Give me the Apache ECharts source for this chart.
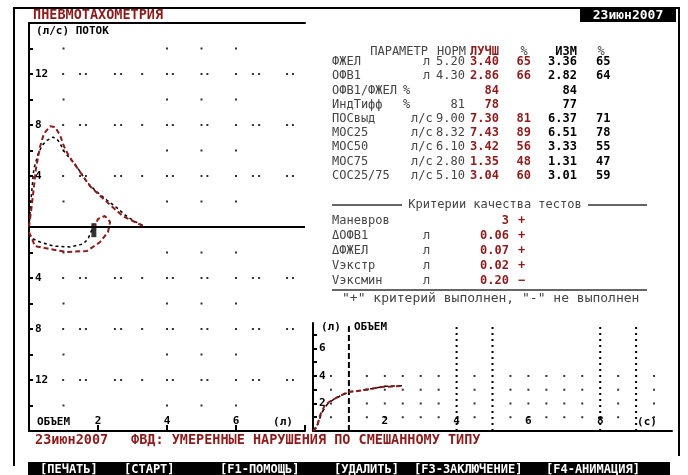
<!DOCTYPE html>
<html><head><meta charset="utf-8">
<script src="https://cdn.jsdelivr.net/npm/echarts@6/dist/echarts.min.js"></script>
<style>html,body{margin:0;padding:0;background:#fff}#c{width:688px;height:475px}</style>
</head><body><div id="c"></div>
<script>
// ---- flow-volume loop (main chart) ----
const redExpVol  = [0,0.06,0.12,0.2,0.32,0.43,0.61,0.75,0.9,1.01,1.13,1.25,1.42,1.59,1.77,2.0,2.26,2.49,2.72,3.01,3.3,3.39];
const redExpFlow = [0,1.25,2.6,4.55,6.3,7.3,7.9,7.85,7.2,6.35,5.7,5.2,4.55,3.9,3.2,2.6,1.96,1.4,0.86,0.47,0.08,0];
const redInsVol  = [0,0.09,0.17,0.61,1.1,1.68,2.06,2.29,2.35,2.2,2.0,1.91];
const redInsFlow = [-0.4,-0.94,-1.49,-1.73,-1.96,-1.88,-1.18,-0.39,0.39,0.86,0.63,0.08];
const blkExpVol  = [0,0.06,0.14,0.26,0.38,0.52,0.7,0.84,0.93,1.01,1.19,1.36,1.68,1.97,2.26,2.55,2.78,3.04,3.33,3.42];
const blkExpFlow = [0,2.2,4.55,5.7,6.4,6.8,7.05,6.8,6.4,5.95,5.35,4.85,3.5,2.75,2.1,1.5,0.95,0.47,0.08,0];
const blkInsVol  = [0,0.12,0.32,0.7,1.19,1.57,1.71,1.83];
const blkInsFlow = [-0.55,-0.94,-1.18,-1.49,-1.57,-1.33,-0.94,-0.16];
const markerPoint = [1.88,-0.25];
// dotted grid of the main chart
const mainDotRowsMajor = [-12,-8,-4,4,8,12];
const mainDotXMajor = [0.99,1.48,1.65,2.49,2.67,3.28,4,4.17,5,5.17,6,6.49,6.67,7.48,7.65];
const mainDotRowsMinor = [-14,-10,-6,-2,2,6,10,14];
const mainDotXMinor = [1,4,5,6];
const flowTickLabels = [4,8,12];
const volTickLabels = [2,4,6];

// ---- volume-time (small chart) ----
const redVtT = [0,0.11,0.2,0.33,0.53,0.75,0.97,1.25,1.59,1.92,2.48];
const redVtV = [0,0.29,1.16,1.89,2.25,2.55,2.84,2.9,3.05,3.2,3.27];
const blkVtT = [0,0.13,0.25,0.4,0.6,0.85,1.0,1.3,1.7,2.0,2.55];
const blkVtV = [0,0.5,1.35,1.95,2.35,2.65,2.85,2.95,3.1,3.25,3.3];
const smallDotRows = [1,2,3,4];
const smallDotX = [0.5,1.5,2,2.5,3,3.5,4.5,5.5,6,6.5,7,7.5,8.5,9.5];
const smallColumnsT = [4,5,8,9];
const smallDashT = 1;
const timeTickLabels = [2,4,6,8];
const volTimeTickLabels = [2,4,6];

// ---- table ----
const paramNames = ['ФЖЕЛ','ОФВ1','ОФВ1/ФЖЕЛ','ИндТифф','ПОСвыд','МОС25','МОС50','МОС75','СОС25/75'];
const paramUnits = ['л','л','%','%','л/с','л/с','л/с','л/с','л/с'];
const dueVals    = ['5.20','4.30','','81','9.00','8.32','6.10','2.80','5.10'];
const bestVals   = ['3.40','2.86','84','78','7.30','7.43','3.42','1.35','3.04'];
const bestPct    = ['65','66','','','81','89','56','48','60'];
const lastVals   = ['3.36','2.82','84','77','6.37','6.51','3.33','1.31','3.01'];
const lastPct    = ['65','64','','','71','78','55','47','59'];
const critNames  = ['Маневров','ΔОФВ1','ΔФЖЕЛ','Vэкстр','Vэксмин'];
const critUnits  = ['','л','л','л','л'];
const critVals   = ['3','0.06','0.07','0.02','0.20'];
const critMarks  = ['+','+','+','+','−'];
const buttons    = ['[ПЕЧАТЬ]','[СТАРТ]','[F1-ПОМОЩЬ]','[УДАЛИТЬ]','[F3-ЗАКЛЮЧЕНИЕ]','[F4-АНИМАЦИЯ]'];
const buttonX    = [40,124,220,334,414,546];

const RED = '#8e1b1b', MONO = '"DejaVu Sans Mono", monospace';
const zip = (a,b) => a.map((v,i)=>[v,b[i]]);

const mainDots = [];
mainDotRowsMajor.forEach(r => mainDotXMajor.forEach(x => mainDots.push([x,r])));
mainDotRowsMinor.forEach(r => mainDotXMinor.forEach(x => mainDots.push([x,r])));
const smallDots = [];
smallDotRows.forEach(r => smallDotX.forEach(x => smallDots.push([x,r])));

function txt(x,y,text,opt){
  opt = opt||{};
  return {type:'text', silent:true, z:100, style:{x:x,y:y,text:text,
    fill:opt.fill||'#000', font:(opt.weight||'normal')+' '+(opt.size||12)+'px '+MONO,
    align:opt.align||'left', verticalAlign:'middle'}};
}
function line(x1,y1,x2,y2,w,c){
  return {type:'line', silent:true, z:90, shape:{x1:x1,y1:y1,x2:x2,y2:y2}, style:{stroke:c||'#000', lineWidth:w||2}};
}

const graphics = [];
// outer frame
graphics.push({type:'polyline', silent:true, shape:{points:[[14,466],[14,8],[679,8],[679,456]]}, style:{stroke:'#000', lineWidth:2, fill:null}});
// date box
graphics.push({type:'rect', silent:true, z:95, shape:{x:580,y:9,width:96,height:13}, style:{fill:'#000'}});
graphics.push(txt(628,16,'23июн2007',{fill:'#fff',weight:'bold',size:13,align:'center'}));
// titles
graphics.push(txt(33,15,'ПНЕВМОТАХОМЕТРИЯ',{fill:RED,weight:'bold',size:13.5}));
graphics.push(txt(36,31,'(л/с) ПОТОК',{weight:'bold',size:11}));
graphics.push(txt(37,422,'ОБЪЕМ',{weight:'bold',size:11}));
graphics.push(txt(283,422,'(л)',{weight:'bold',size:11,align:'center'}));
graphics.push(txt(321,327,'(л)',{weight:'bold',size:11}));
graphics.push(txt(354,327,'ОБЪЕМ',{weight:'bold',size:11}));
graphics.push(txt(647,422,'(c)',{weight:'bold',size:11,align:'center'}));
// table header
const hy = 52;
graphics.push(txt(428,hy,'ПАРАМЕТР',{fill:'#444',align:'right'}));
graphics.push(txt(466,hy,'НОРМ',{fill:'#444',align:'right'}));
graphics.push(txt(499,hy,'ЛУЧШ',{fill:RED,weight:'bold',align:'right'}));
graphics.push(txt(524,hy,'%',{fill:'#444',align:'center'}));
graphics.push(txt(577,hy,'ИЗМ',{weight:'bold',align:'right'}));
graphics.push(txt(601,hy,'%',{fill:'#444',align:'center'}));
const unitX = {'л':423,'%':403,'л/с':411};
paramNames.forEach((n,i)=>{
  const y = 62 + i*14.2;
  graphics.push(txt(332,y,n,{fill:'#444'}));
  graphics.push(txt(unitX[paramUnits[i]],y,paramUnits[i],{fill:'#444'}));
  if (dueVals[i]) graphics.push(txt(465,y,dueVals[i],{fill:'#444',align:'right'}));
  graphics.push(txt(499,y,bestVals[i],{fill:RED,weight:'bold',align:'right'}));
  if (bestPct[i]) graphics.push(txt(531,y,bestPct[i],{fill:RED,weight:'bold',align:'right'}));
  graphics.push(txt(577,y,lastVals[i],{weight:'bold',align:'right'}));
  if (lastPct[i]) graphics.push(txt(596,y,lastPct[i],{weight:'bold'}));
});
// criteria
graphics.push(line(332,205,402,205,1.5,'#333'));
graphics.push(line(588,205,647,205,1.5,'#333'));
graphics.push(txt(495,205,'Критерии качества тестов',{fill:'#444',align:'center'}));
critNames.forEach((n,i)=>{
  const y = 221 + i*15;
  graphics.push(txt(332,y,n,{fill:'#444'}));
  if (critUnits[i]) graphics.push(txt(423,y,critUnits[i],{fill:'#444'}));
  graphics.push(txt(509,y,critVals[i],{fill:RED,weight:'bold',align:'right'}));
  graphics.push(txt(518,y,critMarks[i],{fill:RED,weight:'bold'}));
});
graphics.push(line(332,290,647,290,1.5,'#333'));
graphics.push(txt(342,299,'"+" критерий выполнен, "-" не выполнен',{fill:'#444',size:13}));
// bottom conclusion
graphics.push(txt(35,440,'23июн2007',{fill:RED,weight:'bold',size:13.5}));
graphics.push(txt(131,440,'ФВД: УМЕРЕННЫЕ НАРУШЕНИЯ ПО СМЕШАННОМУ ТИПУ',{fill:RED,weight:'bold',size:13.5}));
// button bar
graphics.push({type:'rect', silent:true, z:95, shape:{x:28,y:462,width:642,height:13}, style:{fill:'#000'}});
buttons.forEach((b,i)=>graphics.push(txt(buttonX[i],470,b,{fill:'#fff',weight:'bold',size:12})));

const chart = echarts.init(document.getElementById('c'), null, {renderer:'canvas'});
chart.setOption({
  animation:false,
  backgroundColor:'#fff',
  grid:[
    {left:29, top:23, width:276, height:408},
    {left:313, top:323, width:359, height:108}
  ],
  xAxis:[
    {gridIndex:0, type:'value', min:0, max:8, interval:2, position:'bottom',
     axisLine:{onZero:false, lineStyle:{color:'#000',width:2}},
     axisTick:{inside:true, length:6, lineStyle:{color:'#000',width:2}},
     axisLabel:{inside:true, margin:4, color:'#000', fontFamily:MONO, fontWeight:'bold', fontSize:11,
       formatter:v=> volTickLabels.includes(v) ? String(v) : ''},
     splitLine:{show:false}},
    {gridIndex:0, type:'value', min:0, max:8, position:'top',
     axisLine:{onZero:false, lineStyle:{color:'#000',width:2}},
     axisTick:{show:false}, axisLabel:{show:false}, splitLine:{show:false}},
    {gridIndex:1, type:'value', min:0, max:10, interval:2, position:'bottom',
     axisLine:{onZero:false, lineStyle:{color:'#000',width:2}},
     axisTick:{show:false},
     axisLabel:{inside:true, margin:4, color:'#000', fontFamily:MONO, fontWeight:'bold', fontSize:11,
       formatter:v=> timeTickLabels.includes(v) ? String(v) : ''},
     splitLine:{show:false}}
  ],
  yAxis:[
    {gridIndex:0, type:'value', min:-16, max:16, interval:2,
     axisLine:{onZero:false, lineStyle:{color:'#000',width:2}},
     axisTick:{inside:true, length:4, lineStyle:{color:'#000',width:2}},
     axisLabel:{inside:true, margin:6, color:'#000', fontFamily:MONO, fontWeight:'bold', fontSize:11,
       formatter:v=> flowTickLabels.includes(Math.abs(v)) ? String(Math.abs(v)) : ''},
     splitLine:{show:false}},
    {gridIndex:1, type:'value', min:0, max:7.85, interval:1,
     axisLine:{onZero:false, lineStyle:{color:'#000',width:2}},
     axisTick:{inside:true, length:4, lineStyle:{color:'#000',width:2}},
     axisLabel:{inside:true, margin:6, color:'#000', fontFamily:MONO, fontWeight:'bold', fontSize:11,
       showMaxLabel:false, formatter:v=> volTimeTickLabels.includes(v) ? String(v) : ''},
     splitLine:{show:false}}
  ],
  series:[
    {type:'scatter', xAxisIndex:0, yAxisIndex:0, data:mainDots, symbol:'rect', symbolSize:2,
     itemStyle:{color:'#000'}, silent:true,
     markLine:{silent:true, symbol:['none','none'], label:{show:false},
       lineStyle:{color:'#000', width:2, type:'solid'}, data:[{yAxis:0}]}},
    {type:'line', xAxisIndex:0, yAxisIndex:0, data:zip(blkExpVol,blkExpFlow), showSymbol:false, symbol:'none',
     lineStyle:{color:'#000', width:1.5, type:[3,3]}},
    {type:'line', xAxisIndex:0, yAxisIndex:0, data:zip(blkInsVol,blkInsFlow), showSymbol:false, symbol:'none',
     lineStyle:{color:'#000', width:1.5, type:[3,3]}},
    {type:'line', xAxisIndex:0, yAxisIndex:0, data:zip(redExpVol,redExpFlow), showSymbol:false, symbol:'none',
     lineStyle:{color:RED, width:2, type:[5,3]}},
    {type:'line', xAxisIndex:0, yAxisIndex:0, data:zip(redInsVol,redInsFlow), showSymbol:false, symbol:'none',
     lineStyle:{color:RED, width:2, type:[5,3]}},
    {type:'scatter', xAxisIndex:0, yAxisIndex:0, data:[markerPoint], symbol:'rect', symbolSize:[5,14],
     itemStyle:{color:'#000'}, silent:true},
    // small chart
    {type:'scatter', xAxisIndex:2, yAxisIndex:1, data:smallDots, symbol:'rect', symbolSize:2,
     itemStyle:{color:'#000'}, silent:true},
    ...smallColumnsT.map(t=>({type:'line', xAxisIndex:2, yAxisIndex:1, data:[[t,0],[t,7.65]], symbol:'none',
     lineStyle:{color:'#000', width:2, type:[2,4]}, silent:true})),
    {type:'line', xAxisIndex:2, yAxisIndex:1, data:[[smallDashT,0],[smallDashT,7.75]], symbol:'none',
     lineStyle:{color:'#000', width:2, type:[6,3]}, silent:true},
    {type:'line', xAxisIndex:2, yAxisIndex:1, data:zip(blkVtT,blkVtV), symbol:'none',
     lineStyle:{color:'#000', width:1.5, type:[4,3]}},
    {type:'line', xAxisIndex:2, yAxisIndex:1, data:zip(redVtT,redVtV), symbol:'none',
     lineStyle:{color:RED, width:2, type:[5,3]}}
  ],
  graphic:graphics
});
</script></body></html>
